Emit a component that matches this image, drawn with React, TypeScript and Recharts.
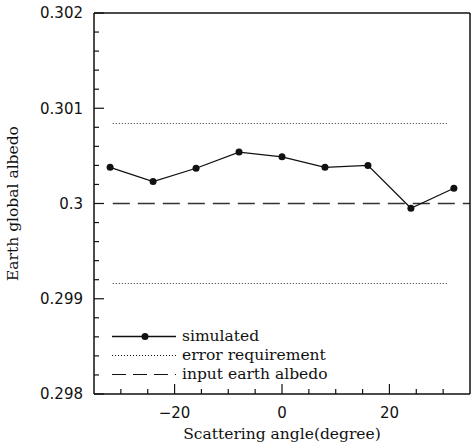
import React from 'react';
import { LineChart, Line, XAxis, YAxis, Legend } from 'recharts';

// scattering angle (degree) and simulated earth global albedo
const angles = [-32, -24, -16, -8, 0, 8, 16, 24, 32];
const albedo = [0.30038, 0.30023, 0.30037, 0.30054, 0.30049, 0.30038, 0.3004, 0.29995, 0.30016];

// error requirement band and input albedo
const errorBounds = [0.30084, 0.29916];
const inputAlbedo = 0.3;
const errorSpan = [-31.5, 31];
const inputSpan = [-31.5, 35];

const xTicks = [-30, -25, -20, -15, -10, -5, 0, 5, 10, 15, 20, 25, 30];
const xLabeled = [-20, 0, 20];
const yTicks = [
  0.298, 0.2982, 0.2984, 0.2986, 0.2988, 0.299, 0.2992, 0.2994, 0.2996, 0.2998, 0.3,
  0.3002, 0.3004, 0.3006, 0.3008, 0.301, 0.3012, 0.3014, 0.3016, 0.3018, 0.302,
];

const legendItems = [
  { name: 'simulated', dash: undefined, dot: true },
  { name: 'error requirement', dash: '1 2', dot: false },
  { name: 'input earth albedo', dash: '14 7', dot: false },
];

const simData = angles.map((a, i) => ({ x: a, y: albedo[i] }));
const upperData = errorSpan.map((a) => ({ x: a, y: errorBounds[0] }));
const lowerData = errorSpan.map((a) => ({ x: a, y: errorBounds[1] }));
const inputData = inputSpan.map((a) => ({ x: a, y: inputAlbedo }));

const INK = '#111';
const sans = '"DejaVu Sans", sans-serif';
const serif = '"DejaVu Serif", serif';

const isMajorY = (v: number) => Math.abs(v * 1000 - Math.round(v * 1000)) < 1e-6;

const LeftTick = ({ x, y, payload }: any) => {
  const major = isMajorY(payload.value);
  return (
    <g>
      <line x1={x} x2={x + (major ? 10 : 5)} y1={y} y2={y} stroke={INK} strokeWidth={1.2} />
      {major && (
        <text x={x - 11} y={y} dy="0.36em" textAnchor="end" fontFamily={sans} fontSize={15} fill={INK}>
          {String(Number(payload.value.toFixed(3)))}
        </text>
      )}
    </g>
  );
};

const RightTick = ({ x, y, payload }: any) => {
  const major = isMajorY(payload.value);
  return <line x1={x} x2={x - (major ? 10 : 5)} y1={y} y2={y} stroke={INK} strokeWidth={1.2} />;
};

const BottomTick = ({ x, y, payload }: any) => {
  const major = xLabeled.includes(payload.value);
  return (
    <g>
      <line x1={x} x2={x} y1={y} y2={y - (major ? 10 : 5)} stroke={INK} strokeWidth={1.2} />
      {major && (
        <text x={x} y={y + 24} textAnchor="middle" fontFamily={sans} fontSize={15} fill={INK}>
          {payload.value < 0 ? `\u2212${Math.abs(payload.value)}` : payload.value}
        </text>
      )}
    </g>
  );
};

const TopTick = ({ x, y, payload }: any) => {
  const major = xLabeled.includes(payload.value);
  return <line x1={x} x2={x} y1={y} y2={y + (major ? 10 : 5)} stroke={INK} strokeWidth={1.2} />;
};

const LegendBox = () => (
  <div style={{ fontFamily: serif, fontSize: 15.5, color: INK }}>
    {legendItems.map((item) => (
      <div key={item.name} style={{ display: 'flex', alignItems: 'center', height: 19 }}>
        <svg width={70} height={19}>
          <line
            x1={0}
            x2={64}
            y1={9.5}
            y2={9.5}
            stroke={INK}
            strokeWidth={item.dot ? 1.3 : 1.2}
            strokeDasharray={item.dash}
          />
          {item.dot && <circle cx={33} cy={9.5} r={3.5} fill={INK} />}
        </svg>
        <span style={{ lineHeight: '19px' }}>{item.name}</span>
      </div>
    ))}
  </div>
);

export default function App() {
  return (
    <div style={{ position: 'absolute', left: 0, top: 0, background: '#fff' }}>
      <LineChart width={471} height={444} margin={{ top: 0, right: 0, bottom: 0, left: 0 }}>
        <XAxis
          dataKey="x"
          type="number"
          domain={[-35, 35]}
          ticks={xTicks}
          interval={0}
          height={50}
          tickSize={0}
          tickMargin={0}
          tick={<BottomTick />}
          axisLine={{ stroke: INK, strokeWidth: 1.5 }}
          label={{
            content: ({ viewBox }: any) => (
              <text
                x={viewBox.x + viewBox.width / 2}
                y={viewBox.y + 45}
                textAnchor="middle"
                fontFamily={serif}
                fontSize={15.5}
                fill={INK}
              >
                Scattering angle(degree)
              </text>
            ),
          }}
        />
        <XAxis
          xAxisId="top"
          orientation="top"
          type="number"
          domain={[-35, 35]}
          ticks={xTicks}
          interval={0}
          height={13}
          tickSize={0}
          tickMargin={0}
          tick={<TopTick />}
          axisLine={{ stroke: INK, strokeWidth: 1.5 }}
        />
        <YAxis
          type="number"
          domain={[0.298, 0.302]}
          ticks={yTicks}
          interval={0}
          width={94}
          tickSize={0}
          tickMargin={0}
          tick={<LeftTick />}
          axisLine={{ stroke: INK, strokeWidth: 1.5 }}
          label={{
            content: ({ viewBox }: any) => {
              const cy = viewBox.y + viewBox.height / 2;
              return (
                <text
                  x={13}
                  y={cy}
                  transform={`rotate(-90 13 ${cy})`}
                  textAnchor="middle"
                  dominantBaseline="central"
                  fontFamily={serif}
                  fontSize={15.5}
                  fill={INK}
                >
                  Earth global albedo
                </text>
              );
            },
          }}
        />
        <YAxis
          yAxisId="right"
          orientation="right"
          type="number"
          domain={[0.298, 0.302]}
          ticks={yTicks}
          interval={0}
          width={1}
          tickSize={0}
          tickMargin={0}
          tick={<RightTick />}
          axisLine={{ stroke: INK, strokeWidth: 1.5 }}
        />
        <Line data={upperData} dataKey="y" stroke="#333" strokeWidth={1} strokeDasharray="1 2" dot={false} isAnimationActive={false} />
        <Line data={lowerData} dataKey="y" stroke="#333" strokeWidth={1} strokeDasharray="1 2" dot={false} isAnimationActive={false} />
        <Line data={inputData} dataKey="y" stroke="#333" strokeWidth={1.4} strokeDasharray="17 8" dot={false} isAnimationActive={false} />
        <Line
          data={simData}
          dataKey="y"
          stroke={INK}
          strokeWidth={1.3}
          dot={{ r: 3.5, fill: INK, stroke: INK, strokeWidth: 0 }}
          isAnimationActive={false}
        />
        <Legend
          layout="vertical"
          align="center"
          verticalAlign="middle"
          content={<LegendBox />}
          wrapperStyle={{ left: 112, top: 327, width: 300 }}
        />
      </LineChart>
    </div>
  );
}
